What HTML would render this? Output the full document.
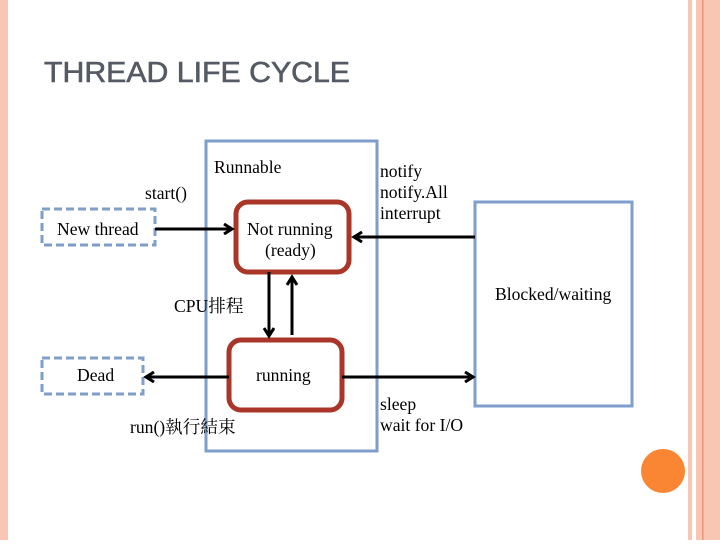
<!DOCTYPE html>
<html><head><style>body{margin:0;width:720px;height:540px;overflow:hidden;background:#fff}</style></head><body>
<svg width="720" height="540" xmlns="http://www.w3.org/2000/svg" font-family="Liberation Serif, Noto Serif CJK SC, serif" font-size="17.6">
<defs><marker id="a" markerWidth="12" markerHeight="12" refX="9" refY="6" orient="auto" markerUnits="userSpaceOnUse"><path d="M1,1 L9,6 L1,11" fill="none" stroke="#000" stroke-width="3"/></marker></defs>
<rect x="0" y="0" width="8" height="540" fill="#f9c6b3"/>
<rect x="688" y="0" width="4" height="540" fill="#f9c6b3"/>
<rect x="696" y="0" width="24" height="540" fill="#f9c6b3"/>
<rect x="702" y="0" width="1.5" height="540" fill="#e8957a"/>
<circle cx="663" cy="471" r="22" fill="#fa8532"/>
<text x="44" y="82" font-family="Liberation Sans, sans-serif" font-size="29" fill="#555a63" stroke="#555a63" stroke-width="0.6" textLength="306" lengthAdjust="spacingAndGlyphs">THREAD LIFE CYCLE</text>
<rect x="206" y="141" width="171" height="310" fill="none" stroke="#7f9ec9" stroke-width="3"/>
<rect x="475" y="202" width="157" height="204" fill="none" stroke="#7f9ec9" stroke-width="3"/>
<rect x="42" y="209" width="113" height="36" fill="none" stroke="#7f9ec9" stroke-width="3" stroke-dasharray="8,4"/>
<rect x="42" y="358" width="101" height="36" fill="none" stroke="#7f9ec9" stroke-width="3" stroke-dasharray="8,4"/>
<rect x="236" y="202" width="113" height="70" rx="12" fill="#fff" stroke="#a93628" stroke-width="5"/>
<rect x="229" y="340" width="113" height="70" rx="12" fill="#fff" stroke="#a93628" stroke-width="5"/>
<g stroke="#000" stroke-width="3" fill="none">
<line x1="155" y1="229" x2="232" y2="229" marker-end="url(#a)"/>
<line x1="475" y1="237" x2="354" y2="237" marker-end="url(#a)"/>
<line x1="269" y1="272" x2="269" y2="336" marker-end="url(#a)"/>
<line x1="292" y1="335" x2="292" y2="277" marker-end="url(#a)"/>
<line x1="229" y1="377" x2="146" y2="377" marker-end="url(#a)"/>
<line x1="342" y1="377" x2="473" y2="377" marker-end="url(#a)"/>
</g>
<text x="214" y="173">Runnable</text>
<text x="145" y="199">start()</text>
<text x="57" y="235">New thread</text>
<text x="247" y="235">Not running</text>
<text x="265" y="256">(ready)</text>
<text x="380" y="177">notify</text>
<text x="380" y="198">notify.All</text>
<text x="380" y="219">interrupt</text>
<text x="495" y="300">Blocked/waiting</text>
<text x="174" y="312">CPU排程</text>
<text x="77" y="381">Dead</text>
<text x="256" y="381">running</text>
<text x="380" y="410">sleep</text>
<text x="380" y="431">wait for I/O</text>
<text x="130" y="433">run()執行結束</text>
</svg>
</body></html>
